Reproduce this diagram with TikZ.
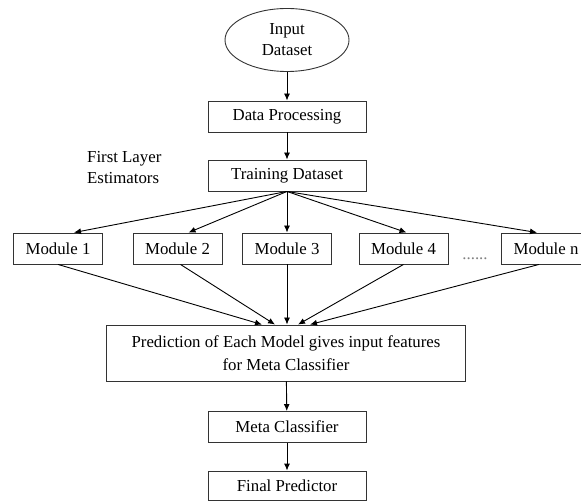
\documentclass[tikz,border=0pt]{standalone}
\usepackage{fontspec}
\setmainfont{Liberation Serif}
\usetikzlibrary{shapes.geometric,arrows.meta}

\begin{document}
\begin{tikzpicture}[x=1pt,y=-1pt,font=\fontsize{16.8}{21}\selectfont,
        box/.style={draw=black!80, line width=0.9pt, minimum width=158pt, minimum height=31pt, inner sep=2pt},
        modbox/.style={box, minimum width=89pt},
        arr/.style={line width=0.9pt, -{Latex[length=7pt,width=6pt]}}]
        \useasboundingbox (0,0) rectangle (581,502);

        \node[ellipse, draw=black!80, line width=0.9pt, minimum width=124pt, minimum height=63pt, inner sep=0pt, align=center] (in) at (287,40) {Input\\Dataset};
        \node[box] (dp) at (287,116.5) {Data Processing};
        \node[box] (td) at (287,175.5) {Training Dataset};
        \node[align=left, anchor=west, inner sep=0pt] (fl) at (87,168) {First Layer\\Estimators};

        \node[modbox] (m1) at (58,248.5) {Module 1};
        \node[modbox] (m2) at (177.5,248.5) {Module 2};
        \node[modbox] (m3) at (287,248.5) {Module 3};
        \node[modbox] (m4) at (403.5,248.5) {Module 4};
        \node[modbox] (mn) at (546,248.5) {Module n};
        \node[anchor=base, gray, inner sep=0pt] (dots) at (475,260) {......};

        \node[box, minimum width=359pt, minimum height=56pt, align=center, font=\fontsize{16.8}{23}\selectfont] (pr) at (286,353) {Prediction of Each Model gives input features\\for Meta Classifier};
        \node[box] (mc) at (287,427) {Meta Classifier};
        \node[box, minimum height=29pt] (fp) at (287,485.5) {Final Predictor};

        \draw[arr] (in) -- (dp);
        \draw[arr] (dp) -- (td);
        \draw[arr] (td.south) -- ([xshift=16pt]m1.north);
        \draw[arr] (td.south) -- ([xshift=11pt]m2.north);
        \draw[arr] (td.south) -- (m3.north);
        \draw[arr] (td.south) -- ([xshift=3pt]m4.north);
        \draw[arr] (td.south) -- ([xshift=-9pt]mn.north);
        \draw[arr] (m1.south) -- ([xshift=-24pt]pr.north);
        \draw[arr] ([xshift=3pt]m2.south) -- ([xshift=-11pt]pr.north);
        \draw[arr] (m3.south) -- ([xshift=1pt]pr.north);
        \draw[arr] (m4.south) -- ([xshift=12pt]pr.north);
        \draw[arr] ([xshift=-7pt]mn.south) -- ([xshift=24pt]pr.north);
        \draw[arr] (pr) -- (mc);
        \draw[arr] (mc) -- (fp);
\end{tikzpicture}
\end{document}
